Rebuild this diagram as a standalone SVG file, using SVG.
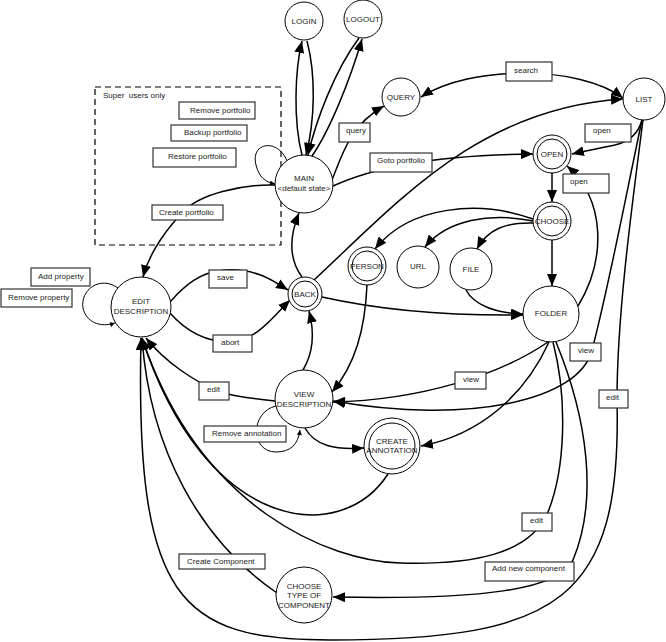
<svg xmlns="http://www.w3.org/2000/svg" width="666" height="642" viewBox="0 0 666 642">
<style>
  .bg{fill:#ffffff}
  .n{fill:#ffffff;stroke:#000;stroke-width:1}
  .e path{fill:none;stroke:#000;stroke-width:1.5}
  .e path.loop{stroke-width:1}
  .lb{fill:#ffffff;stroke:#333;stroke-width:1.2}
  text{font-family:"Liberation Sans",Arial,sans-serif;font-size:8px;fill:#222}
  .c{text-anchor:middle}
  .dash{fill:none;stroke:#000;stroke-width:1.2;stroke-dasharray:6 4}
</style>
<defs>
  <marker id="ah" viewBox="0 0 12 10" refX="12" refY="5" markerWidth="12" markerHeight="10" markerUnits="userSpaceOnUse" orient="auto"><path d="M0,0 L12,5 L0,10 z" fill="#000"/></marker>
  <marker id="ahs" viewBox="0 0 12 10" refX="12" refY="5" markerWidth="12" markerHeight="10" markerUnits="userSpaceOnUse" orient="auto-start-reverse"><path d="M0,0 L12,5 L0,10 z" fill="#000"/></marker>
  <marker id="as" viewBox="0 0 6 6" refX="6" refY="3" markerWidth="6" markerHeight="5" markerUnits="userSpaceOnUse" orient="auto"><path d="M0,0 L6,3 L0,6 z" fill="#000"/></marker>
</defs>
<rect class="bg" x="0" y="0" width="666" height="642"/>

<g id="superusers">
  <rect class="dash" x="95" y="87" width="186" height="158"/>
  <text x="103" y="98">Super&#160; users only</text>
</g>

<g id="connectors" class="e">
  <!-- MAIN <-> LOGIN -->
  <path d="M302,155 C293,120 295,70 302,41" marker-end="url(#ah)"/>
  <path d="M307,41 C316,75 315,120 306,155" marker-end="url(#ah)"/>
  <!-- MAIN <-> LOGOUT -->
  <path d="M359,38 C335,70 316,120 308,155" marker-end="url(#ah)"/>
  <path d="M312,156 C330,130 350,80 362,39" marker-end="url(#ah)"/>
  <!-- MAIN -> QUERY -->
  <path d="M332,180 C342,155 350,125 384,106" marker-end="url(#ah)"/>
  <!-- MAIN -> OPEN (Goto portfolio) -->
  <path d="M333,186 Q400,155 533,154" marker-end="url(#ah)"/>
  <!-- QUERY <-> LIST (search) -->
  <path d="M421,97 C470,65 580,65 623,98" marker-start="url(#ahs)" marker-end="url(#ah)"/>
  <!-- BACK -> LIST -->
  <path d="M314,280 C400,200 480,108 623,99" marker-end="url(#ah)"/>
  <!-- LIST -> OPEN (open) -->
  <path d="M642,120 C638,135 628,142 615,145 C600,148 588,150 572,154" marker-end="url(#ah)"/>
  <!-- FOLDER -> OPEN (open) -->
  <path d="M578,306 C606,260 606,200 567,166" marker-end="url(#ah)"/>
  <!-- OPEN -> CHOOSE -->
  <path d="M552,173 L552,202" marker-end="url(#ah)"/>
  <!-- CHOOSE -> FOLDER -->
  <path d="M552,240 L552,286" marker-end="url(#ah)"/>
  <!-- CHOOSE -> PERSON / URL / FILE -->
  <path d="M533,219 C480,200 410,205 375,249" marker-end="url(#ah)"/>
  <path d="M533,221 C490,212 447,220 425,247" marker-end="url(#ah)"/>
  <path d="M534,223 C505,222 487,230 477,249" marker-end="url(#ah)"/>
  <!-- FILE -> FOLDER -->
  <path d="M466,290 C474,305 495,313 523,314" marker-end="url(#ah)"/>
  <!-- BACK -> FOLDER -->
  <path d="M322,297 C380,310 450,316 523,315" marker-end="url(#ah)"/>
  <!-- PERSON -> VIEW -->
  <path d="M367,285 C365,330 355,365 332,392" marker-end="url(#ah)"/>
  <!-- FOLDER -> VIEW (view) -->
  <path d="M548,342 C500,375 420,400 333,402" marker-end="url(#ah)"/>
  <!-- LIST -> VIEW (view) -->
  <path d="M642,120 C625,200 608,290 592,350 C580,400 470,425 333,401" marker-end="url(#ah)"/>
  <!-- LIST -> EDIT (edit) -->
  <path d="M643,120 C630,220 617,320 617,400 C622,600 560,640 330,640 C180,640 135,600 141,338" marker-end="url(#ah)"/>
  <!-- FOLDER -> EDIT (edit) -->
  <path d="M553,342 C568,400 565,470 548,512 C530,555 470,565 400,563 C330,561 200,510 142,338" marker-end="url(#ah)"/>
  <!-- CREATE ANNOTATION -> EDIT -->
  <path d="M388,474 C340,548 205,532 142,338" marker-end="url(#ah)"/>
  <!-- CHOOSE TYPE -> EDIT (Create Component) -->
  <path d="M277,593 C200,540 150,450 142,338" marker-end="url(#ah)"/>
  <!-- FOLDER -> CHOOSE TYPE (Add new component) -->
  <path d="M556,342 C588,420 598,500 573,560 C560,590 480,600 333,597" marker-end="url(#ah)"/>
  <!-- FOLDER -> CREATE ANNOTATION -->
  <path d="M549,342 C525,395 480,435 421,446" marker-end="url(#ah)"/>
  <!-- VIEW -> CREATE ANNOTATION -->
  <path d="M305,428 C315,446 335,450 364,448" marker-end="url(#ah)"/>
  <!-- VIEW -> BACK -->
  <path d="M303,370 C315,350 314,330 309,311" marker-end="url(#ah)"/>
  <!-- BACK -> MAIN -->
  <path d="M302,277 C288,258 290,235 299,213" marker-end="url(#ah)"/>
  <!-- EDIT -> BACK (save) -->
  <path d="M170,302 C185,285 200,272 225,270 C255,268 272,280 288,290" marker-end="url(#ah)"/>
  <!-- EDIT -> BACK (abort) -->
  <path d="M170,313 C185,330 205,342 230,342 C255,342 275,315 290,300" marker-end="url(#ah)"/>
  <!-- VIEW -> EDIT (edit) -->
  <path d="M275,401 C255,399 235,397 220,392 C195,382 165,362 146,338" marker-end="url(#ah)"/>
  <!-- MAIN -> EDIT (Create portfolio) -->
  <path d="M275,185 C240,184 200,195 185,210 C170,225 150,250 143,277" marker-end="url(#ah)"/>
  <!-- self loops -->
  <path class="loop" d="M287,161 C278,138 250,142 256,165 C259,177 265,182 275,184" marker-end="url(#as)"/>
  <path class="loop" d="M118,288 C100,275 80,290 83,308 C86,322 100,328 115,323" marker-end="url(#as)"/>
  <path class="loop" d="M276,406 C250,412 250,452 276,452 C290,452 298,445 300,430" marker-end="url(#as)"/>
</g>

<g id="LOGIN"><circle class="n" cx="304" cy="21" r="19"/><text class="c" x="304" y="24">LOGIN</text></g>
<g id="LOGOUT"><circle class="n" cx="363" cy="19" r="19"/><text class="c" x="363" y="22">LOGOUT</text></g>
<g id="QUERY"><circle class="n" cx="401" cy="97" r="19"/><text class="c" x="401" y="100">QUERY</text></g>
<g id="LIST"><circle class="n" cx="644" cy="99" r="21"/><text class="c" x="644" y="102">LIST</text></g>
<g id="OPEN"><circle class="n" cx="552" cy="154" r="19"/><circle class="n" cx="552" cy="154" r="15"/><text class="c" x="552" y="157">OPEN</text></g>
<g id="CHOOSE"><circle class="n" cx="552" cy="221" r="19"/><circle class="n" cx="552" cy="221" r="15"/><text class="c" x="552" y="224">CHOOSE</text></g>
<g id="PERSON"><circle class="n" cx="367" cy="266" r="19"/><circle class="n" cx="367" cy="266" r="15"/><text class="c" x="367" y="269">PERSON</text></g>
<g id="URL"><circle class="n" cx="418" cy="267" r="21"/><text class="c" x="418" y="269">URL</text></g>
<g id="FILE"><circle class="n" cx="471" cy="269" r="21"/><text class="c" x="471" y="272">FILE</text></g>
<g id="FOLDER"><circle class="n" cx="551" cy="314" r="28"/><text class="c" x="551" y="316">FOLDER</text></g>
<g id="MAIN"><circle class="n" cx="304" cy="184" r="29"/><text class="c" x="304" y="181">MAIN</text><text class="c" x="304" y="191">&lt;default state&gt;</text></g>
<g id="BACK"><circle class="n" cx="305" cy="294" r="17"/><circle class="n" cx="305" cy="294" r="13"/><text class="c" x="305" y="297">BACK</text></g>
<g id="EDIT_DESCRIPTION"><circle class="n" cx="141" cy="307" r="30"/><text class="c" x="141" y="304">EDIT</text><text class="c" x="141" y="314">DESCRIPTION</text></g>
<g id="VIEW_DESCRIPTION"><circle class="n" cx="304" cy="399" r="29"/><text class="c" x="304" y="397">VIEW</text><text class="c" x="304" y="407">DESCRIPTION</text></g>
<g id="CREATE_ANNOTATION"><circle class="n" cx="392" cy="446" r="28"/><circle class="n" cx="392" cy="446" r="23"/><text class="c" x="392" y="444">CREATE</text><text class="c" x="392" y="453">ANNOTATION</text></g>
<g id="CHOOSE_TYPE"><circle class="n" cx="304" cy="595" r="28"/><text class="c" x="304" y="589">CHOOSE</text><text class="c" x="304" y="598">TYPE OF</text><text class="c" x="304" y="608">COMPONENT</text></g>

<g id="labels">
  <rect class="lb" x="179" y="102" width="76" height="17"/><text x="190" y="113">Remove portfolio</text>
  <rect class="lb" x="171" y="125" width="76" height="16"/><text x="184" y="135">Backup portfolio</text>
  <rect class="lb" x="153" y="148" width="83" height="19"/><text x="168" y="159">Restore portfolio</text>
  <rect class="lb" x="152" y="205" width="71" height="15"/><text x="159" y="215">Create portfolio</text>
  <rect class="lb" x="31" y="268" width="59" height="18"/><text x="38" y="279">Add property</text>
  <rect class="lb" x="1" y="289" width="71" height="18"/><text x="8" y="300">Remove property</text>
  <rect class="lb" x="209" y="270" width="38" height="18"/><text x="217" y="280">save</text>
  <rect class="lb" x="213" y="335" width="39" height="17"/><text x="221" y="345">abort</text>
  <rect class="lb" x="199" y="382" width="30" height="18"/><text x="207" y="392">edit</text>
  <rect class="lb" x="204" y="426" width="82" height="16"/><text x="212" y="436">Remove annotation</text>
  <rect class="lb" x="179" y="554" width="86" height="15"/><text x="187" y="564">Create Component</text>
  <rect class="lb" x="339" y="123" width="31" height="19"/><text x="346" y="133">query</text>
  <rect class="lb" x="370" y="153" width="62" height="19"/><text x="377" y="163">Goto portfolio</text>
  <rect class="lb" x="506" y="62" width="46" height="19"/><text x="514" y="73">search</text>
  <rect class="lb" x="585" y="124" width="46" height="18"/><text x="593" y="133">open</text>
  <rect class="lb" x="563" y="174" width="46" height="19"/><text x="570" y="184">open</text>
  <rect class="lb" x="455" y="372" width="31" height="17"/><text x="463" y="382">view</text>
  <rect class="lb" x="570" y="343" width="31" height="18"/><text x="578" y="353">view</text>
  <rect class="lb" x="599" y="390" width="29" height="18"/><text x="606" y="400">edit</text>
  <rect class="lb" x="522" y="513" width="30" height="18"/><text x="530" y="523">edit</text>
  <rect class="lb" x="485" y="562" width="89" height="19"/><text x="492" y="571">Add new component</text>
</g>
</svg>
